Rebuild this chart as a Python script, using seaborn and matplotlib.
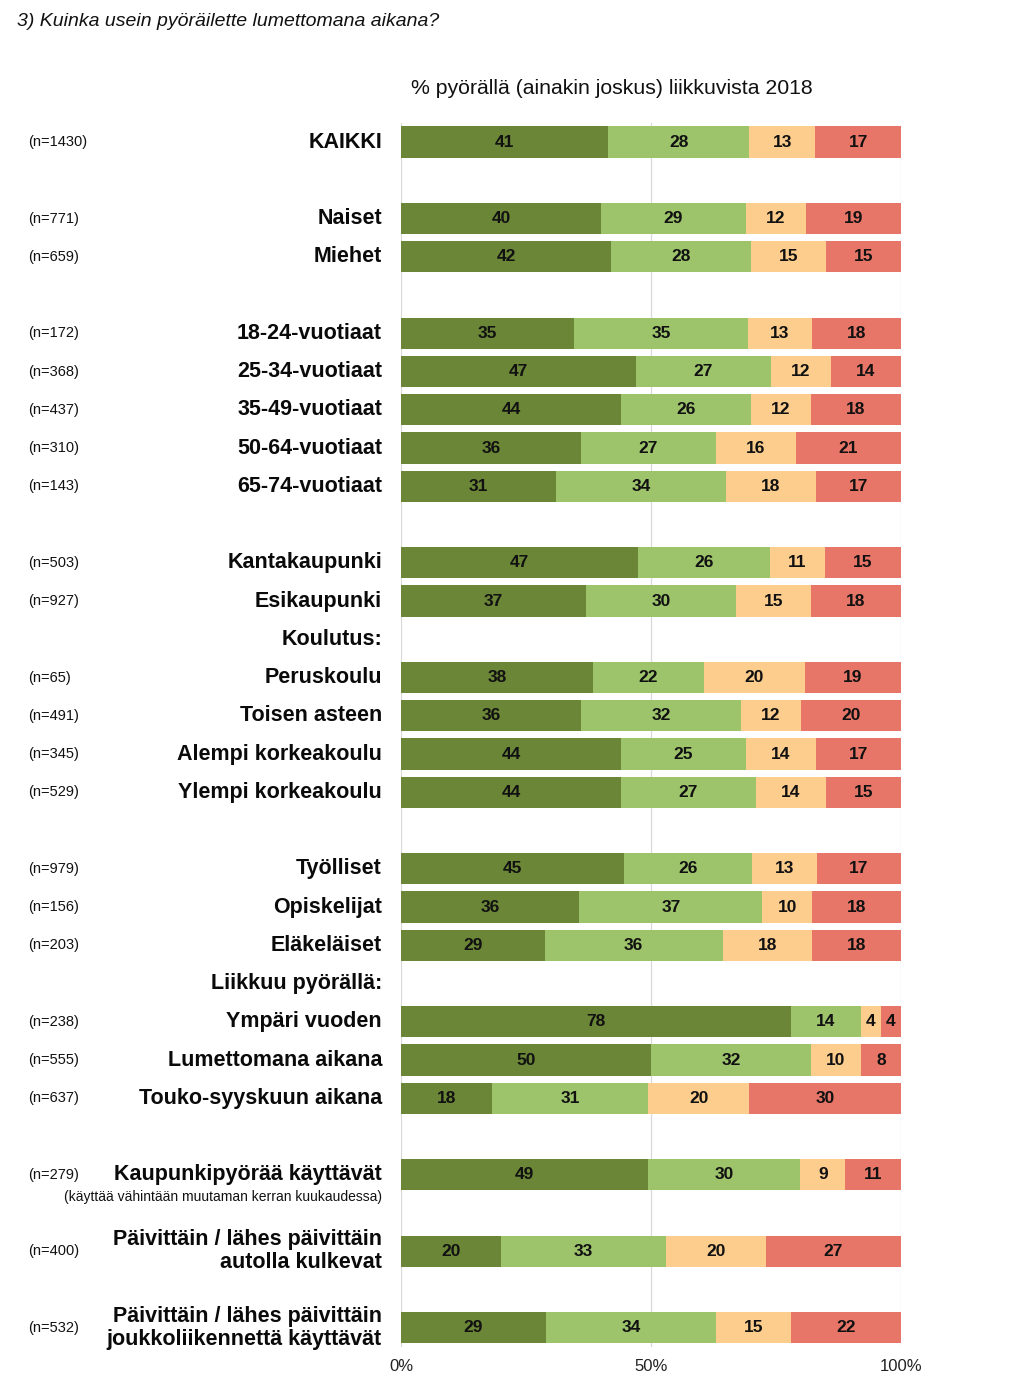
import matplotlib
matplotlib.use("Agg")
import matplotlib.pyplot as plt
import matplotlib.transforms as mtransforms
import numpy as np
import pandas as pd
import seaborn as sns

# ---- data ----
labels = ["KAIKKI", "Naiset", "Miehet", "18-24-vuotiaat", "25-34-vuotiaat",
          "35-49-vuotiaat", "50-64-vuotiaat", "65-74-vuotiaat", "Kantakaupunki",
          "Esikaupunki", "Peruskoulu", "Toisen asteen", "Alempi korkeakoulu",
          "Ylempi korkeakoulu", "Työlliset", "Opiskelijat", "Eläkeläiset",
          "Ympäri vuoden", "Lumettomana aikana", "Touko-syyskuun aikana",
          "Kaupunkipyörää käyttävät",
          "Päivittäin / lähes päivittäin\nautolla kulkevat",
          "Päivittäin / lähes päivittäin\njoukkoliikennettä käyttävät"]
n_values = [1430, 771, 659, 172, 368, 437, 310, 143, 503, 927, 65, 491, 345, 529,
            979, 156, 203, 238, 555, 637, 279, 400, 532]
s1 = [41, 40, 42, 35, 47, 44, 36, 31, 47, 37, 38, 36, 44, 44, 45, 36, 29, 78, 50, 18, 49, 20, 29]
s2 = [28, 29, 28, 35, 27, 26, 27, 34, 26, 30, 22, 32, 25, 27, 26, 37, 36, 14, 32, 31, 30, 33, 34]
s3 = [13, 12, 15, 13, 12, 12, 16, 18, 11, 15, 20, 12, 14, 14, 13, 10, 18, 4, 10, 20, 9, 20, 15]
s4 = [17, 19, 15, 18, 14, 18, 21, 17, 15, 18, 19, 20, 17, 15, 17, 18, 18, 4, 8, 30, 11, 27, 22]
group_headers = ["Koulutus:", "Liikkuu pyörällä:"]
x_ticks = [0, 50, 100]
x_ticklabels = ["0%", "50%", "100%"]
title = "3) Kuinka usein pyöräilette lumettomana aikana?"
subtitle = "% pyörällä (ainakin joskus) liikkuvista 2018"
note = "(käyttää vähintään muutaman kerran kuukaudessa)"

# ---- layout ----
row_pos = [0, 2, 3, 5, 6, 7, 8, 9, 11, 12, 14, 15, 16, 17, 19, 20, 21, 23, 24, 25, 27, 29, 31]
header_pos = [13, 22]
colors = ["#6a8636", "#9dc36b", "#fccd8c", "#e87668"]

sns.set_theme(style="white")
plt.rcParams["font.family"] = ["Liberation Sans", "DejaVu Sans"]

vals = np.array([s1, s2, s3, s4], dtype=float)
tot = vals.sum(axis=0)
pct = vals / tot * 100
cum = np.cumsum(pct, axis=0)

df = pd.DataFrame({"pos": row_pos})
for i in range(4):
    df[f"c{i}"] = cum[i]

fig = plt.figure(figsize=(10.24, 13.86), dpi=100)
ax = fig.add_axes([401 / 1024, 1 - 1346.9 / 1386, 500 / 1024, (1346.9 - 122.9) / 1386])

for g in x_ticks:
    ax.axvline(g, color="#d9d9d9", lw=0.9, zorder=0)

for i in [3, 2, 1, 0]:
    sns.barplot(data=df, x=f"c{i}", y="pos", orient="h", native_scale=True,
                color=colors[i], saturation=1, width=0.82, ax=ax, linewidth=0,
                zorder=2)

ax.set_ylim(31.5, -0.5)
ax.set_xlim(0, 100)
ax.set_xlabel("")
ax.set_ylabel("")
ax.set_yticks([])
ax.set_xticks(x_ticks)
ax.set_xticklabels(x_ticklabels, fontsize=12, color="#222222")
ax.tick_params(axis="x", length=0, pad=9)
for sp in ax.spines.values():
    sp.set_visible(False)

# value labels
for j, y in enumerate(row_pos):
    left = 0
    for i in range(4):
        center = left + pct[i, j] / 2
        ax.text(center, y, f"{int(vals[i, j])}", ha="center", va="center",
                fontsize=12.5, fontweight="bold", color="#111111", zorder=3)
        left = cum[i, j]

trans = mtransforms.blended_transform_factory(fig.transFigure, ax.transData)
lab_x = 382 / 1024
n_x = 28 / 1024
for j, y in enumerate(row_pos):
    ax.text(lab_x, y, labels[j], transform=trans, ha="right", va="center",
            fontsize=15.5, fontweight="bold", color="#0a0a0a", linespacing=1.1,
            clip_on=False)
    ax.text(n_x, y, f"(n={n_values[j]})", transform=trans, ha="left", va="center",
            fontsize=10.5, color="#111111", clip_on=False)
for h, y in zip(group_headers, header_pos):
    ax.text(lab_x, y, h, transform=trans, ha="right", va="center",
            fontsize=15.5, fontweight="bold", color="#0a0a0a", clip_on=False)

ax.text(lab_x, 27.58, note, transform=trans, ha="right", va="center",
        fontsize=10, color="#111111", clip_on=False)

fig.text(17 / 1024, 1 - 22 / 1386, title, ha="left", va="center",
         fontsize=14, fontstyle="italic", color="#111111")
fig.text(612 / 1024, 1 - 89 / 1386, subtitle, ha="center", va="center",
         fontsize=15.3, color="#111111")

fig.savefig("out.png", dpi=100)
